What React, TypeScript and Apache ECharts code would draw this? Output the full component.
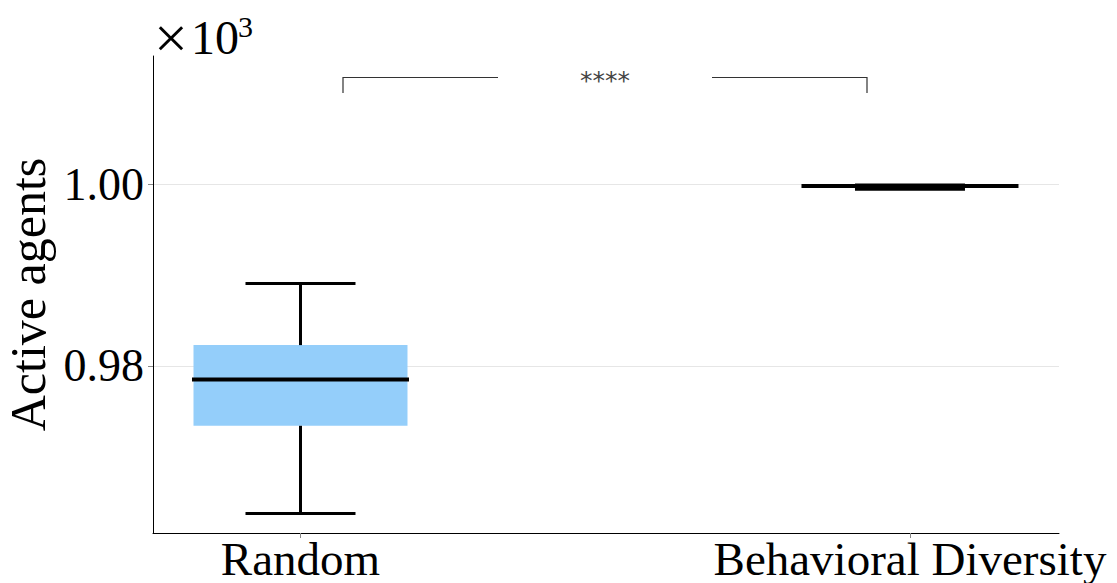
import React, { useEffect, useRef } from "react";
import * as echarts from "echarts";

const categories = ["Random", "Behavioral Diversity"];
const whiskerLow = [963.75, 999.43];
const quartile1 = [973.4, 999.75];
const medians = [978.5, 999.78];
const quartile3 = [982.28, 999.8];
const whiskerHigh = [989.07, 999.91];
const yTickValues = [980, 1000];
const significance = "****";

const SERIF = "'Liberation Serif', 'DejaVu Serif', serif";

export default function App() {
  const ref = useRef<HTMLDivElement>(null);
  useEffect(() => {
    if (!ref.current) return;
    const chart = echarts.init(ref.current, undefined, { renderer: "svg" });
    const data = categories.map((_, i) => [
      i,
      whiskerLow[i],
      quartile1[i],
      medians[i],
      quartile3[i],
      whiskerHigh[i],
    ]);
    const BOX_HALF = 107;
    const CAP_HALF = 55;
    const option: any = {
      animation: false,
      backgroundColor: "#ffffff",
      grid: {
        left: 153,
        right: 58,
        top: 56,
        bottom: 50,
        containLabel: false,
        outerBoundsMode: "none",
      },
      xAxis: {
        type: "value",
        min: -0.242,
        max: 1.2445,
        axisLine: { show: true, onZero: false, lineStyle: { color: "#000", width: 1 } },
        axisTick: {
          show: true,
          customValues: [0, 1],
          length: 5,
          lineStyle: { color: "#888" },
        },
        axisLabel: {
          customValues: [0, 1],
          formatter: (v: number) => categories[Math.round(v)] ?? "",
          fontFamily: SERIF,
          fontSize: 47,
          lineHeight: 47,
          color: "#000",
          margin: 2,
        },
        splitLine: { show: false },
      },
      yAxis: {
        type: "value",
        min: 961.6,
        max: 1014.1,
        name: "Active agents",
        nameLocation: "middle",
        nameGap: 100,
        nameTextStyle: { fontFamily: SERIF, fontSize: 50, color: "#000" },
        axisLine: { show: true, onZero: false, lineStyle: { color: "#000", width: 1 } },
        axisTick: {
          show: true,
          customValues: yTickValues,
          length: 5,
          lineStyle: { color: "#888" },
        },
        axisLabel: {
          customValues: yTickValues,
          formatter: (v: number) => (v / 1000).toFixed(2),
          fontFamily: SERIF,
          fontSize: 46,
          color: "#000",
          margin: 9,
        },
        splitLine: { show: true, lineStyle: { color: "#e6e6e6", width: 1 } },
      },
      series: [
        {
          type: "custom",
          data,
          encode: { x: 0, y: [1, 2, 3, 4, 5] },
          renderItem: (params: any, api: any) => {
            const x = api.value(0);
            const c = api.coord([x, api.value(3)]);
            const cx = c[0];
            const yLo = api.coord([x, api.value(1)])[1];
            const yQ1 = api.coord([x, api.value(2)])[1];
            const yMed = c[1];
            const yQ3 = api.coord([x, api.value(4)])[1];
            const yHi = api.coord([x, api.value(5)])[1];
            const stroke = { stroke: "#000", lineWidth: 3 };
            return {
              type: "group",
              children: [
                {
                  type: "rect",
                  shape: { x: cx - BOX_HALF, y: yQ3, width: BOX_HALF * 2, height: Math.max(yQ1 - yQ3, 0.5) },
                  style: { fill: "#94CEFA" },
                },
                { type: "line", shape: { x1: cx, y1: yHi, x2: cx, y2: yQ3 }, style: stroke },
                { type: "line", shape: { x1: cx, y1: yQ1, x2: cx, y2: yLo }, style: stroke },
                { type: "line", shape: { x1: cx - CAP_HALF, y1: yHi, x2: cx + CAP_HALF, y2: yHi }, style: stroke },
                { type: "line", shape: { x1: cx - CAP_HALF, y1: yLo, x2: cx + CAP_HALF, y2: yLo }, style: stroke },
                {
                  type: "line",
                  shape: { x1: cx - BOX_HALF - 1.5, y1: yMed, x2: cx + BOX_HALF + 1.5, y2: yMed },
                  style: { stroke: "#000", lineWidth: 4 },
                },
              ],
            };
          },
        },
      ],
      graphic: [
        {
          type: "text",
          left: 154,
          top: 8,
          style: { text: "×", fontFamily: SERIF, fontSize: 60, fill: "#000" },
        },
        {
          type: "text",
          left: 191,
          top: 13,
          style: { text: "10", fontFamily: SERIF, fontSize: 48, fill: "#000" },
        },
        {
          type: "text",
          left: 238,
          top: 11,
          style: { text: "3", fontFamily: SERIF, fontSize: 30, fill: "#000" },
        },
        {
          type: "polyline",
          shape: { points: [[343, 93], [343, 77.5], [498, 77.5]] },
          style: { stroke: "#333", lineWidth: 1.2, fill: "none" },
        },
        {
          type: "polyline",
          shape: { points: [[712, 77.5], [867, 77.5], [867, 93]] },
          style: { stroke: "#333", lineWidth: 1.2, fill: "none" },
        },
        {
          type: "text",
          x: 605,
          y: 80,
          style: {
            text: significance,
            fontFamily: "'DejaVu Sans', sans-serif",
            fontSize: 25,
            fill: "#444",
            textAlign: "center",
            textVerticalAlign: "middle",
          },
        },
      ],
    };
    chart.setOption(option);
    return () => chart.dispose();
  }, []);
  return (
    <div
      ref={ref}
      style={{ position: "absolute", left: 0, top: 0, width: 1117, height: 583 }}
    />
  );
}
